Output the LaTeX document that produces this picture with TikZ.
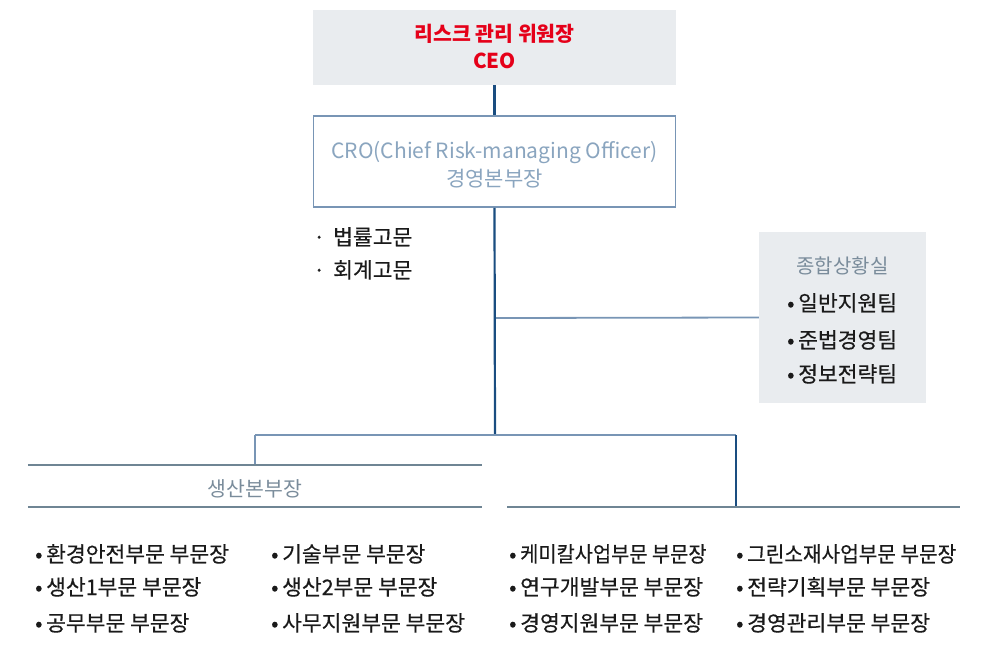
\documentclass[tikz,border=0pt]{standalone}
\usepackage{fontspec}
\setmainfont{Noto Sans CJK KR}
\newfontfamily\kr[FakeBold=0.4]{Noto Sans CJK KR}
\newfontfamily\krl{Noto Sans CJK KR}
\definecolor{boxgray}{HTML}{E9ECEF}
\definecolor{ceored}{HTML}{E50019}
\definecolor{navy}{HTML}{1A4D80}
\definecolor{steel}{HTML}{7895B5}
\definecolor{crotext}{HTML}{8AA5BF}
\definecolor{secline}{HTML}{6F8594}
\definecolor{sectext}{HTML}{7A8C9B}
\definecolor{body}{HTML}{1A1A1A}
\tikzset{
  txt/.style={font=\kr\fontsize{21.5}{24}\selectfont, text=body, anchor=base west, inner sep=0pt},
  ttl/.style={font=\krl\fontsize{21}{24}\selectfont, anchor=base, inner sep=0pt},
  mainline/.style={draw=navy, line width=2.2pt},
  branch/.style={draw=steel, line width=1.8pt},
  secl/.style={draw=secline, line width=2.2pt},
}
\newcommand{\bul}{\makebox[11pt][l]{•}}
\newcommand{\mdot}{\makebox[20pt][l]{·}}
\begin{document}
\begin{tikzpicture}[x=1pt,y=-1pt]
\useasboundingbox (0,0) rectangle (1002,656);
% boxes
\node[fill=boxgray, minimum width=363pt, minimum height=75pt, inner sep=0pt] (ceo) at (494.5,47.5) {};
\node[ttl, text=ceored, font=\krl\bfseries\fontsize{20.5}{24}\selectfont] (ceot1) at (494.5,41) {리스크 관리 위원장};
\node[ttl, text=ceored, font=\krl\bfseries\fontsize{20.5}{24}\selectfont] (ceot2) at (494.5,68) {CEO};

\node[draw=steel, line width=1.5pt, fill=white, minimum width=362pt, minimum height=91pt, inner sep=0pt] (cro) at (494.5,161.5) {};
\node[ttl, text=crotext] (crot1) at (494.5,158) {CRO(Chief Risk-managing Officer)};
\node[ttl, text=crotext] (crot2) at (494.5,186) {경영본부장};

\node[fill=boxgray, minimum width=167pt, minimum height=171pt, inner sep=0pt] (sit) at (842.5,317.5) {};
\node[ttl, text=sectext, font=\krl\fontsize{20}{24}\selectfont] (sitt) at (842.5,273) {종합상황실};
\node[txt] (s1) at (787,311) {\bul 일반지원팀};
\node[txt] (s2) at (787,348) {\bul 준법경영팀};
\node[txt] (s3) at (787,382) {\bul 정보전략팀};

% legal
\node[txt] (l1) at (313,245) {\mdot 법률고문};
\node[txt] (l2) at (313,278) {\mdot 회계고문};

% connectors
\coordinate (b1) at (495,318);
\coordinate (j) at (495,435);
\coordinate (jl) at (255,435);
\coordinate (jr) at (736,435);
\coordinate (rtop) at (736,507);
\coordinate (rl) at (507,507);
\coordinate (rr) at (960,507);
\draw[mainline] (ceo.south) -- (cro.north);
\draw[branch] (b1) -- (sit.west);
\draw[mainline] (cro.south) -- (j);

% production section
\node[minimum width=454pt, minimum height=42pt, inner sep=0pt] (prod) at (255,486) {};
\node[ttl, text=sectext, font=\krl\fontsize{20.5}{24}\selectfont] (prodt) at (255,496) {생산본부장};
\draw[branch] (jl) -- (jr);
\draw[branch] (jl) -- (prod.north);
\draw[mainline] (jr) -- (rtop);
\draw[secl] (prod.north west) -- (prod.north east);
\draw[secl] (prod.south west) -- (prod.south east);
\draw[secl] (rl) -- (rr);

% lists
\node[txt] (a1) at (35,562) {\bul 환경안전부문 부문장};
\node[txt] (a2) at (35,595) {\bul 생산1부문 부문장};
\node[txt] (a3) at (35,631) {\bul 공무부문 부문장};
\node[txt] (b1t) at (271,562) {\bul 기술부문 부문장};
\node[txt] (b2t) at (271,595) {\bul 생산2부문 부문장};
\node[txt] (b3t) at (271,631) {\bul 사무지원부문 부문장};
\node[txt] (c1) at (509,562) {\bul \scalebox{0.92}[1]{케미칼사업부문 부문장}};
\node[txt] (c2) at (509,595) {\bul 연구개발부문 부문장};
\node[txt] (c3) at (509,631) {\bul 경영지원부문 부문장};
\node[txt] (d1) at (736,562) {\bul \scalebox{0.94}[1]{그린소재사업부문 부문장}};
\node[txt] (d2) at (736,595) {\bul 전략기획부문 부문장};
\node[txt] (d3) at (736,631) {\bul 경영관리부문 부문장};
\end{tikzpicture}
\end{document}
